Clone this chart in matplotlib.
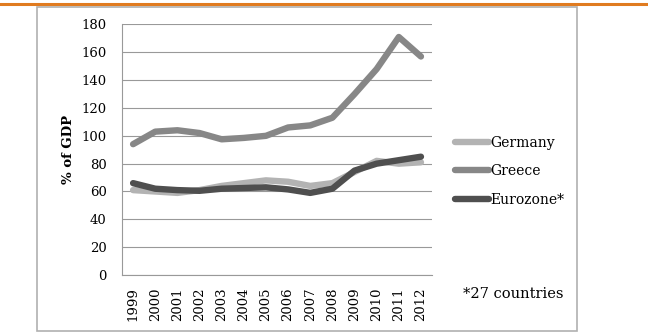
import matplotlib.pyplot as plt
from matplotlib.patches import Rectangle
from matplotlib.lines import Line2D

years = ["1999", "2000", "2001", "2002", "2003", "2004", "2005",
         "2006", "2007", "2008", "2009", "2010", "2011", "2012"]
germany = [61, 60, 59, 61, 64, 66, 68, 67, 64, 66, 74, 82, 80, 81]
greece = [94, 103, 104, 102, 97.5, 98.5, 100, 106, 107.5, 113, 130, 148, 171, 157]
eurozone = [66, 62, 61, 60.5, 62, 62.5, 63, 61.5, 59, 62, 75, 80, 82.5, 85]

plt.rcParams['font.family'] = ['DejaVu Serif']

fig = plt.figure(figsize=(6.48, 3.35), dpi=100)

# orange rule at the top of the page and the chart frame
fig.add_artist(Line2D([0, 1], [0.9866, 0.9866], color="#e07b20", lw=2.2,
                      transform=fig.transFigure))
fig.add_artist(Rectangle((0.0571, 0.0119), 0.8333, 0.967, transform=fig.transFigure,
                         fill=False, edgecolor="#b0b0b0", lw=1.2))

ax = fig.add_axes([0.1883, 0.1791, 0.4784, 0.7478])
x = range(len(years))
series = [("Germany", germany, "#b3b3b3"),
          ("Greece", greece, "#878787"),
          ("Eurozone*", eurozone, "#4f4f4f")]
for name, vals, col in series:
    ax.plot(x, vals, color=col, lw=4.6, solid_capstyle="round",
            solid_joinstyle="round", label=name)

ax.set_xlim(-0.5, len(years) - 0.5)
ax.set_ylim(0, 180)
ax.set_yticks(range(0, 181, 20))
ax.set_xticks(list(x))
ax.set_xticklabels(years, rotation=90, fontsize=9.5)
ax.tick_params(axis="y", labelsize=9.5, length=0, pad=11)
ax.tick_params(axis="x", length=0, pad=9)
ax.grid(axis="y", color="#999999", lw=0.8)
ax.set_axisbelow(True)
for s in ["top", "right"]:
    ax.spines[s].set_visible(False)
for s in ["left", "bottom"]:
    ax.spines[s].set_color("#999999")
    ax.spines[s].set_linewidth(0.8)
ax.set_ylabel("% of GDP", fontsize=9.5, fontweight="bold", labelpad=5)

leg = ax.legend(loc="center left", bbox_to_anchor=(1.035, 0.414), frameon=False,
                fontsize=10, handlelength=2.4, handletextpad=0.1,
                labelspacing=1.05)

fig.text(0.714, 0.122, "*27 countries", fontsize=10.5, va="center")

fig.savefig("out.png", dpi=100)
